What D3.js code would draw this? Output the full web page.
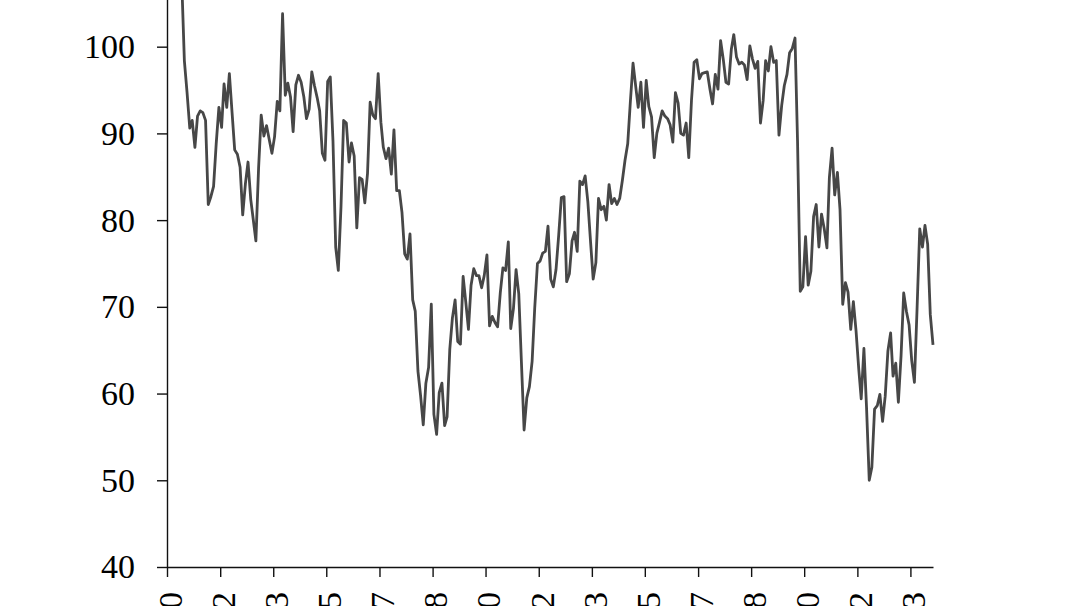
<!DOCTYPE html>
<html>
<head>
<meta charset="utf-8">
<script src="https://cdn.jsdelivr.net/npm/d3@7"></script>
<style>
  html, body { margin: 0; padding: 0; background: #fff; overflow: hidden; }
  #chart svg { display: block; }
</style>
</head>
<body>
<div id="chart"></div>
<script>
var w = 1078;
var h = 606;

// monthly index, Jan 2000 .. Jun 2024
var firstMonth = "2000-01";
var sentiment = [
  112.0, 111.3, 107.1, 109.2, 110.7, 106.4, 108.3, 107.3, 106.8, 105.8, 107.6, 98.4,
  94.7, 90.6, 91.5, 88.4, 92.0, 92.6, 92.4, 91.5, 81.8, 82.7, 83.9, 88.8,
  93.0, 90.7, 95.7, 93.0, 96.9, 92.4, 88.1, 87.6, 86.1, 80.6, 84.2, 86.7,
  82.4, 79.9, 77.6, 86.0, 92.1, 89.7, 90.9, 89.3, 87.7, 89.6, 93.7, 92.6,
  103.8, 94.4, 95.8, 94.2, 90.2, 95.6, 96.7, 95.9, 94.2, 91.7, 92.8, 97.1,
  95.5, 94.1, 92.6, 87.7, 86.9, 96.0, 96.5, 89.1, 76.9, 74.2, 81.6, 91.5,
  91.2, 86.7, 88.9, 87.4, 79.1, 84.9, 84.7, 82.0, 85.4, 93.6, 92.1, 91.7,
  96.9, 91.3, 88.4, 87.1, 88.3, 85.3, 90.4, 83.4, 83.4, 80.9, 76.1, 75.5,
  78.4, 70.8, 69.5, 62.6, 59.8, 56.4, 61.2, 63.0, 70.3, 57.6, 55.3, 60.1,
  61.2, 56.3, 57.3, 65.1, 68.7, 70.8, 66.0, 65.7, 73.5, 70.6, 67.4, 72.5,
  74.4, 73.6, 73.6, 72.2, 73.6, 76.0, 67.8, 68.9, 68.2, 67.7, 71.6, 74.5,
  74.2, 77.5, 67.5, 69.8, 74.3, 71.5, 63.7, 55.8, 59.5, 60.8, 63.7, 69.9,
  75.0, 75.3, 76.2, 76.4, 79.3, 73.2, 72.3, 74.3, 78.3, 82.6, 82.7, 72.9,
  73.8, 77.6, 78.6, 76.4, 84.5, 84.1, 85.1, 82.1, 77.5, 73.2, 75.1, 82.5,
  81.2, 81.6, 80.0, 84.1, 81.9, 82.5, 81.8, 82.5, 84.6, 86.9, 88.8, 93.6,
  98.1, 95.4, 93.0, 95.9, 90.7, 96.1, 93.1, 91.9, 87.2, 90.0, 91.3, 92.6,
  92.0, 91.7, 91.0, 89.0, 94.7, 93.5, 90.0, 89.8, 91.2, 87.2, 93.8, 98.2,
  98.5, 96.3, 96.9, 97.0, 97.1, 95.1, 93.4, 96.8, 95.1, 100.7, 98.5, 95.9,
  95.7, 99.7, 101.4, 98.8, 98.0, 98.2, 97.9, 96.2, 100.1, 98.6, 97.5, 98.3,
  91.2, 93.8, 98.4, 97.2, 100.0, 98.2, 98.4, 89.8, 93.2, 95.5, 96.8, 99.3,
  99.8, 101.0, 89.1, 71.8, 72.3, 78.1, 72.5, 74.1, 80.4, 81.8, 76.9, 80.7,
  79.0, 76.8, 84.9, 88.3, 82.9, 85.5, 81.2, 70.3, 72.8, 71.7, 67.4, 70.6,
  67.2, 62.8, 59.4, 65.2, 58.4, 50.0, 51.5, 58.2, 58.6, 59.9, 56.8, 59.7,
  64.9, 67.0, 62.0, 63.5, 59.0, 64.4, 71.6, 69.5, 67.9, 63.8, 61.3, 69.7,
  79.0, 76.9, 79.4, 77.2, 69.1, 65.6
];

// x ticks every 20 months
var xTickDates = ["2000-05-16", "2002-01-16", "2003-09-16", "2005-05-16", "2007-01-16",
                  "2008-09-16", "2010-05-16", "2012-01-16", "2013-09-16", "2015-05-16",
                  "2017-01-16", "2018-09-16", "2020-05-16", "2022-01-16", "2023-09-16"];
var xTickLabels = ["2000", "2002", "2003", "2005", "2007", "2008", "2010", "2012",
                   "2013", "2015", "2017", "2018", "2020", "2022", "2023"];
var yTicks = [40, 50, 60, 70, 80, 90, 100];

var margin = {top: 0, right: 145, bottom: 39, left: 167};

var parseMonth = d3.timeParse("%Y-%m");
var parseDay = d3.timeParse("%Y-%m-%d");
var start = parseMonth(firstMonth);

var data = sentiment.map(function (v, i) {
  return {date: d3.timeMonth.offset(start, i), value: v};
});
var tickDates = xTickDates.map(parseDay);

var svg = d3.select("#chart")
  .append("svg")
  .attr("width", w)
  .attr("height", h)
  .style("font-family", "'Liberation Serif', 'Times New Roman', serif");

var xScale = d3.scaleTime()
  .domain([tickDates[0], data[data.length - 1].date])
  .range([margin.left, w - margin.right]);

var yScale = d3.scaleLinear()
  .domain([40, 112])
  .range([h - margin.bottom, h - margin.bottom - 72 * 8.672]);

var line = d3.line()
  .x(function (d) { return xScale(d.date); })
  .y(function (d) { return yScale(d.value); });

svg.append("path")
  .datum(data)
  .attr("fill", "none")
  .attr("stroke", "#474747")
  .attr("stroke-width", 2.8)
  .attr("stroke-linejoin", "round")
  .attr("d", line);

// x axis
var xAxis = svg.append("g")
  .attr("transform", "translate(0," + (h - margin.bottom) + ")")
  .call(d3.axisBottom(xScale)
    .tickValues(tickDates)
    .tickFormat(function (d, i) { return xTickLabels[i]; })
    .tickSize(10)
    .tickSizeOuter(0));

xAxis.selectAll("text")
  .attr("transform", "rotate(-90)")
  .attr("text-anchor", "end")
  .attr("x", -25)
  .attr("y", 0)
  .attr("dy", "0.42em");

// y axis
var yAxis = svg.append("g")
  .attr("transform", "translate(" + margin.left + ",0)")
  .call(d3.axisLeft(yScale)
    .tickValues(yTicks)
    .tickSize(10)
    .tickPadding(22)
    .tickSizeOuter(0));

svg.selectAll(".tick text")
  .attr("fill", "#000")
  .style("font-size", "34px")
  .style("font-family", "'Liberation Serif', 'Times New Roman', serif");

svg.selectAll(".domain, .tick line")
  .attr("stroke", "#111")
  .attr("stroke-width", 1.4);
</script>
</body>
</html>
